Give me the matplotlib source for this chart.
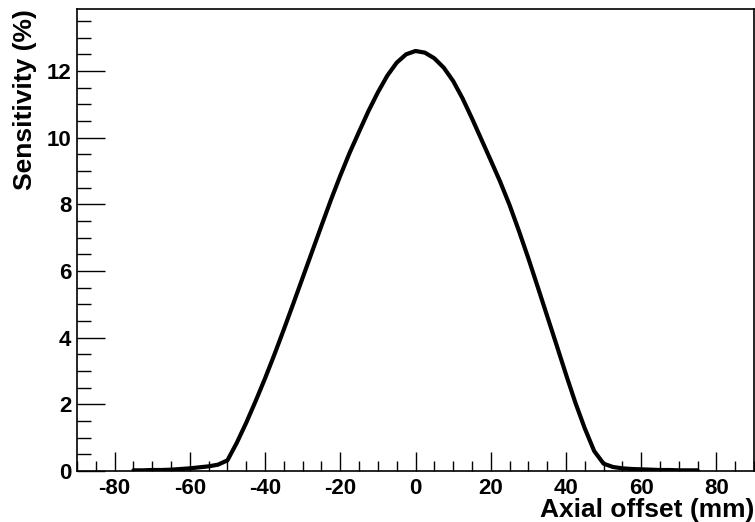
import numpy as np
import matplotlib
matplotlib.use('Agg')
import matplotlib.pyplot as plt
from matplotlib.ticker import MultipleLocator

# axial offset (mm) and sensitivity (%)
offset_mm = [-75, -72.5, -70, -67.5, -65, -62.5, -60, -57.5, -55, -52.5,
             -50, -47.5, -45, -42.5, -40, -37.5, -35, -32.5, -30, -27.5,
             -25, -22.5, -20, -17.5, -15, -12.5, -10, -7.5, -5, -2.5,
             0, 2.5, 5, 7.5, 10, 12.5, 15, 17.5, 20, 22.5,
             25, 27.5, 30, 32.5, 35, 37.5, 40, 42.5, 45, 47.5,
             50, 52.5, 55, 57.5, 60, 62.5, 65, 67.5, 70, 72.5, 75]
sensitivity = [0.02, 0.02, 0.03, 0.03, 0.04, 0.06, 0.08, 0.11, 0.14, 0.19,
               0.32, 0.85, 1.45, 2.10, 2.78, 3.50, 4.25, 5.02, 5.80, 6.58,
               7.36, 8.13, 8.86, 9.55, 10.18, 10.80, 11.36, 11.86, 12.25, 12.50,
               12.60, 12.55, 12.38, 12.10, 11.70, 11.18, 10.58, 9.95, 9.32, 8.68,
               7.98, 7.20, 6.38, 5.52, 4.65, 3.78, 2.90, 2.05, 1.28, 0.60,
               0.22, 0.12, 0.08, 0.06, 0.05, 0.04, 0.03, 0.03, 0.02, 0.02, 0.02]

plt.rcParams['font.family'] = ['Liberation Sans', 'DejaVu Sans']
plt.rcParams['font.weight'] = 'bold'
plt.rcParams['axes.unicode_minus'] = False  # plain hyphen like ROOT

fig = plt.figure(figsize=(7.55, 5.22), dpi=100)
ax = fig.add_axes([0.102, 0.0977, 0.8967, 0.8851])

ax.plot(offset_mm, sensitivity, color='black', lw=3.0,
        solid_joinstyle='round', solid_capstyle='round')

ax.set_xlim(-90, 90)
ax.set_ylim(0, 13.86)

ax.xaxis.set_major_locator(MultipleLocator(20))
ax.xaxis.set_minor_locator(MultipleLocator(5))
ax.yaxis.set_major_locator(MultipleLocator(2))
ax.yaxis.set_minor_locator(MultipleLocator(0.5))

ax.tick_params(axis='x', which='major', direction='in', length=14, width=1, pad=5, labelsize=16)
ax.tick_params(axis='x', which='minor', direction='in', length=7, width=1)
ax.tick_params(axis='y', which='major', direction='in', length=20, width=1, pad=4, labelsize=16)
ax.tick_params(axis='y', which='minor', direction='in', length=10, width=1)
ax.tick_params(top=False, right=False, which='both')

for s in ax.spines.values():
    s.set_linewidth(1.2)

ax.set_xlabel('Axial offset (mm)', fontsize=19, fontweight='bold', ha='right', va='baseline')
ax.xaxis.set_label_coords(1.0, -0.1)
ax.set_ylabel('Sensitivity (%)', fontsize=19, fontweight='bold', ha='right', va='center')
ax.yaxis.set_label_coords(-0.0768, 1.0)

fig.savefig('out.png', dpi=100)
